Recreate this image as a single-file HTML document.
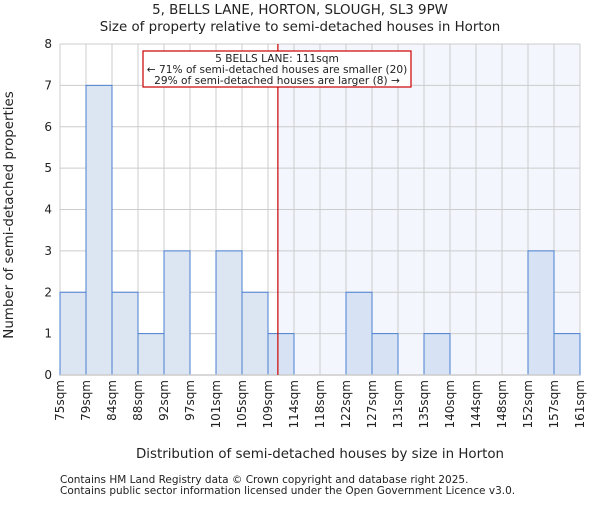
<!DOCTYPE html>
<html><head><meta charset="utf-8"><style>
body{margin:0;background:#fff}
svg text{font-family:"DejaVu Sans","Liberation Sans",sans-serif;fill:#222}
</style></head><body>
<svg id="c" width="600" height="500" xmlns="http://www.w3.org/2000/svg">
<text x="300" y="14" text-anchor="middle" font-size="13.4">5, BELLS LANE, HORTON, SLOUGH, SL3 9PW</text>
<text x="300" y="31" text-anchor="middle" font-size="13.4">Size of property relative to semi-detached houses in Horton</text>
<g id="plot"></g>
<text x="320" y="458" text-anchor="middle" font-size="13.4">Distribution of semi-detached houses by size in Horton</text>
<text transform="translate(13,215) rotate(-90)" text-anchor="middle" font-size="13.4">Number of semi-detached properties</text>
<text x="60" y="483" font-size="10.5" fill="#444">Contains HM Land Registry data © Crown copyright and database right 2025.</text>
<text x="60" y="494" font-size="10.5" fill="#444">Contains public sector information licensed under the Open Government Licence v3.0.</text>
</svg>
<script>
const binLabels=["75sqm","79sqm","84sqm","88sqm","92sqm","97sqm","101sqm","105sqm","109sqm","114sqm","118sqm","122sqm","127sqm","131sqm","135sqm","140sqm","144sqm","148sqm","152sqm","157sqm","161sqm"];
const counts=[2,7,2,1,3,0,3,2,1,0,0,2,1,0,1,0,0,0,3,1];
const yTicks=[0,1,2,3,4,5,6,7,8];
const propertyPos=8.38; // in bin units (111sqm)
const NS="http://www.w3.org/2000/svg";
const L=60,R=580,T=44,B=375,yMax=8;
const n=counts.length,bw=(R-L)/n;
const xs=i=>L+i*bw, ys=v=>B-(v/yMax)*(B-T);
const g=document.getElementById('plot');
function mk(t,a){const e=document.createElementNS(NS,t);for(const k in a)e.setAttribute(k,a[k]);g.appendChild(e);return e;}
const px=xs(propertyPos);
let e=mk('rect',{x:px,y:T,width:R-px,height:B-T,fill:'#f3f6fd'});


yTicks.forEach(v=>{const l=mk('line',{x1:L,x2:R,y1:ys(v),y2:ys(v),stroke:'#ccc','stroke-width':1});


const t=mk('text',{x:L-8,y:ys(v)+4,'text-anchor':'end','font-size':12});t.textContent=v;

});
binLabels.forEach((s,i)=>{const l=mk('line',{x1:xs(i),x2:xs(i),y1:T,y2:B,stroke:'#ccc','stroke-width':1});


const t=mk('text',{transform:`translate(${xs(i)+4},380) rotate(-90)`,'text-anchor':'end','font-size':12});t.textContent=s;

});
counts.forEach((v,i)=>{if(!v)return;const r=mk('rect',{x:xs(i),y:ys(v),width:bw,height:B-ys(v),fill:(xs(i)>=px-bw/2?'#d7e3f5':'#dce6f3'),stroke:'#4a7fcf','stroke-width':1});

});
e=mk('line',{x1:L,x2:R,y1:B,y2:B,stroke:'#ccc','stroke-width':1.5});


e=mk('line',{x1:px,x2:px,y1:T,y2:B,stroke:'#cc0000','stroke-width':1.2});


e=mk('rect',{x:143,y:51,width:268,height:36,fill:'#fff',stroke:'#cc0000','stroke-width':1.2});


["5 BELLS LANE: 111sqm","← 71% of semi-detached houses are smaller (20)","29% of semi-detached houses are larger (8) →"].forEach((s,k)=>{const t=mk('text',{x:277,y:62+k*11,'text-anchor':'middle','font-size':10.6});t.textContent=s;

});
</script>
</body></html>
